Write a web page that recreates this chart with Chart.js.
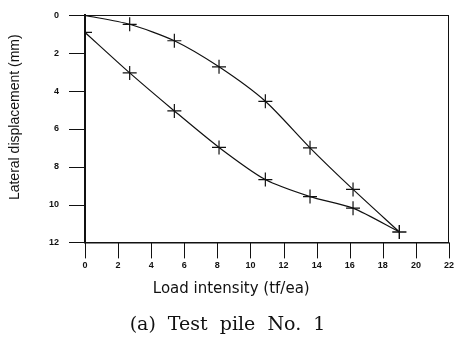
<!DOCTYPE html>
<html>
<head>
<meta charset="utf-8">
<script src="https://cdn.jsdelivr.net/npm/chart.js@4/dist/chart.umd.min.js"></script>
<style>
  html, body { margin: 0; padding: 0; background: #fff; }
  #wrap { width: 456px; height: 352px; }
</style>
</head>
<body>
<div id="wrap"><canvas id="grafico" width="456" height="352"></canvas></div>
<script>
// Datos
const cargas = [0, 2.7, 5.4, 8.1, 10.9, 13.6, 16.2, 19.0];
const despCurvaSuperior = [0, 0.47, 1.34, 2.72, 4.54, 7.0, 9.2, 11.45];
const despCurvaInferior = [0.9, 3.04, 5.05, 6.98, 8.68, 9.58, 10.19, 11.45];
const ticksX = [0, 2, 4, 6, 8, 10, 12, 14, 16, 18, 20, 22];
const ticksY = [0, 2, 4, 6, 8, 10, 12];

const puntos = (ys) => cargas.map((x, i) => ({ x: x, y: ys[i] }));

const negro = '#111';
const fuenteTicks = { family: "'Liberation Sans', Arial, sans-serif", size: 9, weight: 'bold' };
const largoTick = 16;

const serie = (ys) => ({
  data: puntos(ys),
  borderColor: negro,
  borderWidth: 1.2,
  tension: 0.25,
  pointStyle: 'cross',
  pointRadius: 7,
  pointBorderColor: negro,
  pointBorderWidth: 1.2
});

// marcas de los ejes hacia afuera y marco superior/derecho
const marcas = {
  id: 'marcas',
  afterDraw(chart) {
    const { ctx, chartArea: a, scales: { x, y } } = chart;
    ctx.save();
    ctx.strokeStyle = negro;
    ctx.lineWidth = 1;
    ctx.beginPath();
    x.ticks.forEach(t => {
      const px = Math.round(x.getPixelForValue(t.value)) + 0.5;
      ctx.moveTo(px, a.bottom);
      ctx.lineTo(px, a.bottom + largoTick);
    });
    y.ticks.forEach(t => {
      const py = Math.round(y.getPixelForValue(t.value)) + 0.5;
      ctx.moveTo(a.left - largoTick, py);
      ctx.lineTo(a.left, py);
    });
    ctx.moveTo(a.left, Math.round(a.top) + 0.5);
    ctx.lineTo(a.right, Math.round(a.top) + 0.5);
    ctx.moveTo(Math.round(a.right) - 0.5, a.top);
    ctx.lineTo(Math.round(a.right) - 0.5, a.bottom);
    ctx.stroke();
    ctx.restore();
  }
};

const ctx = document.getElementById('grafico').getContext('2d');

new Chart(ctx, {
  type: 'line',
  data: {
    datasets: [serie(despCurvaSuperior), serie(despCurvaInferior)]
  },
  plugins: [marcas],
  options: {
    responsive: false,
    animation: false,
    layout: { autoPadding: false, padding: { top: 11, right: 1, left: 0, bottom: 0 } },
    plugins: {
      legend: { display: false },
      tooltip: { enabled: false },
      title: {
        display: true,
        position: 'bottom',
        text: '(a)  Test  pile  No.  1',
        color: negro,
        font: { family: "'DejaVu Serif', serif", size: 19, weight: 'normal' },
        padding: { top: 0, bottom: 16 }
      }
    },
    scales: {
      x: {
        type: 'linear',
        position: 'bottom',
        min: ticksX[0],
        max: ticksX[ticksX.length - 1],
        ticks: { stepSize: 2, color: negro, font: fuenteTicks, padding: 2, maxRotation: 0, autoSkip: false },
        grid: { drawOnChartArea: false, tickLength: largoTick, color: negro, tickColor: 'rgba(0,0,0,0)' },
        border: { color: negro, width: 1.5 },
        title: {
          display: true,
          text: 'Load intensity (tf/ea)               ',
          color: negro,
          font: { family: "'DejaVu Sans', sans-serif", size: 15 },
          padding: { top: 7, bottom: 15 }
        }
      },
      y: {
        type: 'linear',
        position: 'left',
        reverse: true,
        min: ticksY[0],
        max: ticksY[ticksY.length - 1],
        ticks: { stepSize: 2, color: negro, font: fuenteTicks, padding: 10, autoSkip: false },
        grid: { drawOnChartArea: false, tickLength: largoTick, color: negro, tickColor: 'rgba(0,0,0,0)' },
        border: { color: negro, width: 2 },
        title: {
          display: true,
          text: '      Lateral displacement (mm)',
          color: negro,
          font: { family: "'Liberation Sans', Arial, sans-serif", size: 14 },
          padding: { top: 6.6, bottom: 15.6 }
        }
      }
    }
  }
});
</script>
</body>
</html>
